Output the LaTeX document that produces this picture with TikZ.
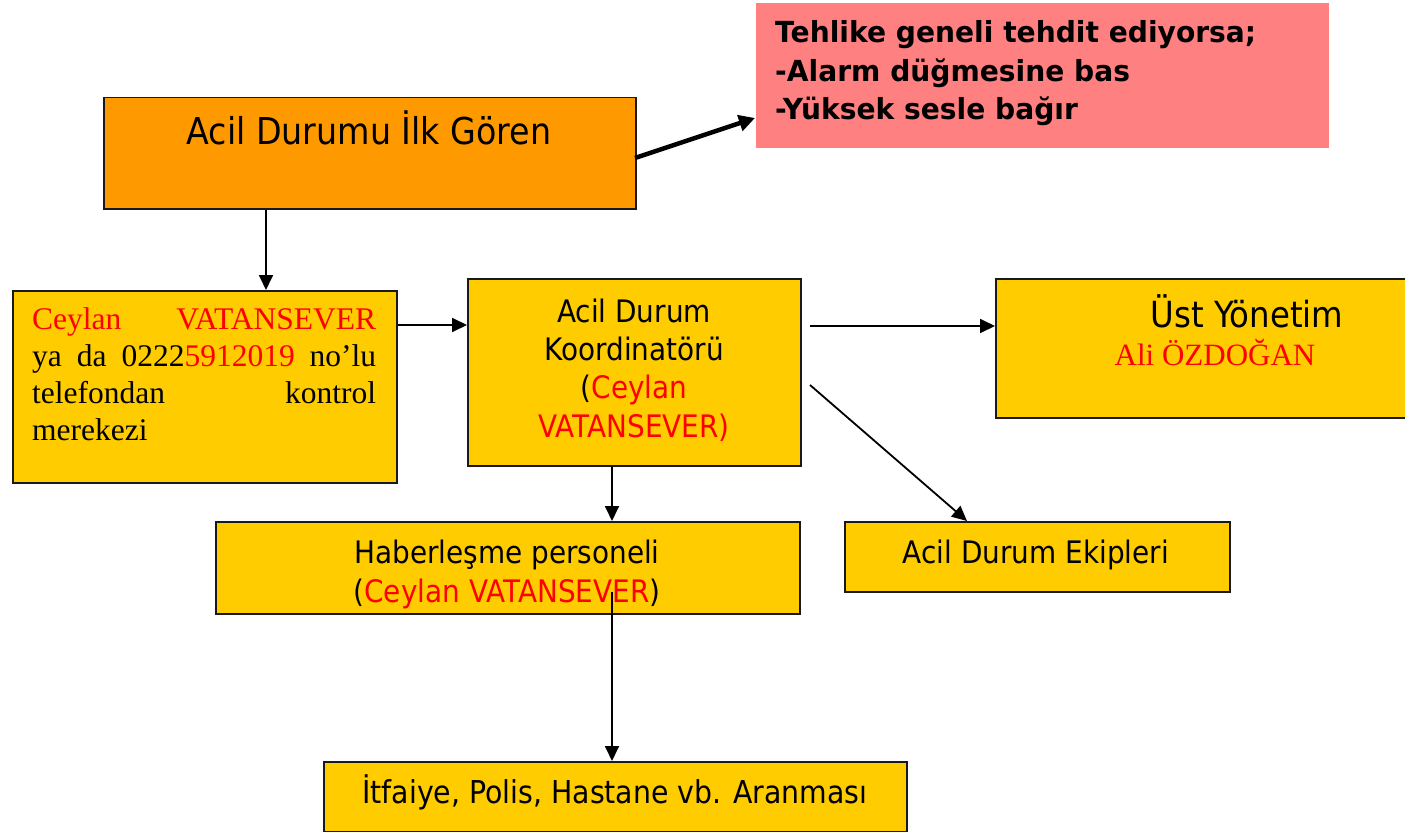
\documentclass[tikz,border=0pt]{standalone}
\usepackage{fontspec}
\setmainfont{Liberation Serif}
\newfontfamily\tah{DejaVu Sans}[FakeStretch=0.9]
\newfontfamily\tahb{DejaVu Sans}[FakeStretch=0.97]
\usetikzlibrary{arrows.meta}
\definecolor{orng}{HTML}{FF9900}
\definecolor{ylw}{HTML}{FFCC00}
\definecolor{pnk}{HTML}{FF8080}
\definecolor{rd}{HTML}{FF0000}
\begin{document}
\begin{tikzpicture}[x=1pt,y=-1pt,
  box/.style={draw=black!90, line width=1.5pt, rectangle, inner sep=0pt, anchor=north west, fill=ylw},
  lbl/.style={inner sep=0pt, anchor=base, align=center, font=\tah\fontsize{31}{38.3}\selectfont},
  arr/.style={line width=1.8pt, -{Triangle[length=15pt,width=14pt]}},
  thickarr/.style={line width=4.5pt, -{Triangle[length=16pt,width=16pt]}},
]
\useasboundingbox (0,0) rectangle (1405,832);
% boxes
\node[box, fill=orng, minimum width=532pt, minimum height=111pt] (first) at (103,97) {};
\node[box, draw=none, fill=pnk, minimum width=573pt, minimum height=145pt] (alarm) at (755,2) {};
\node[box, minimum width=384pt, minimum height=192pt] (ctrl) at (12,290) {};
\node[box, minimum width=333pt, minimum height=187pt] (coord) at (467,278) {};
\node[box, minimum width=440pt, minimum height=139pt] (ust) at (995,278) {};
\node[box, minimum width=584pt, minimum height=92pt] (hab) at (215,521) {};
\node[box, minimum width=385pt, minimum height=70pt] (ekip) at (844,521) {};
\node[box, minimum width=583pt, minimum height=70pt] (itf) at (323,761) {};
% texts (multi-line nodes are placed by the baseline of their last line)
\node[lbl, font=\tah\fontsize{37}{44}\selectfont] (t1) at (369,145) {Acil Durumu İlk Gören};
\node[inner sep=0pt, anchor=base west, align=left, font=\tahb\bfseries\fontsize{29}{38.5}\selectfont] (t2) at (775,120)
  {Tehlike geneli tehdit ediyorsa;\\-Alarm düğmesine bas\\-Yüksek sesle bağır};
\node[inner sep=0pt, anchor=base west, align=left, font=\fontsize{31.5}{36.7}\selectfont] (t3) at (32,440)
  {\hbox to 344pt{\textcolor{rd}{Ceylan}\hfill\textcolor{rd}{VATANSEVER}}\\
   \hbox to 344pt{ya\hfill da\hfill 0222\textcolor{rd}{5912019}\hfill no’lu}\\
   \hbox to 344pt{telefondan\hfill kontrol}\\
   merekezi};
\node[lbl] (t4) at (634,437) {Acil Durum\\Koordinatörü\\(\textcolor{rd}{Ceylan}\\\textcolor{rd}{VATANSEVER)}};
\node[lbl, font=\tah\fontsize{36}{42}\selectfont] (t5) at (1247,327) {Üst Yönetim};
\node[inner sep=0pt, anchor=base, font=\fontsize{31}{37}\selectfont, text=rd] (t6) at (1215,365) {Ali ÖZDOĞAN};
\node[lbl, font=\tah\fontsize{31}{39}\selectfont] (t7) at (507,602) {Haberleşme personeli\\(\textcolor{rd}{Ceylan VATANSEVER})};
\node[lbl] (t8) at (1036,563) {Acil Durum Ekipleri};
\node[lbl, font=\tah\fontsize{31.5}{38}\selectfont] (t9) at (615,803) {İtfaiye, Polis, Hastane vb. Aranması};
% free ends
\coordinate (s1) at (635,158);
\coordinate (s2) at (810,326);
\coordinate (s3) at (810,385);
\coordinate (s4) at (612,592);
% connectors
\draw[thickarr] (s1) -- (alarm.west |- 0,118);
\draw[arr] (first.south -| 266,0) -- (ctrl.north -| 266,0);
\draw[arr] (ctrl.east |- 0,325) -- (coord.west |- 0,325);
\draw[arr] (s2) -- (ust.west |- s2);
\draw[arr] (s3) -- (ekip.north -| 967,0);
\draw[arr] (coord.south -| 612,0) -- (hab.north -| 612,0);
\draw[arr] (s4) -- (itf.north -| 612,0);
\end{tikzpicture}
\end{document}
